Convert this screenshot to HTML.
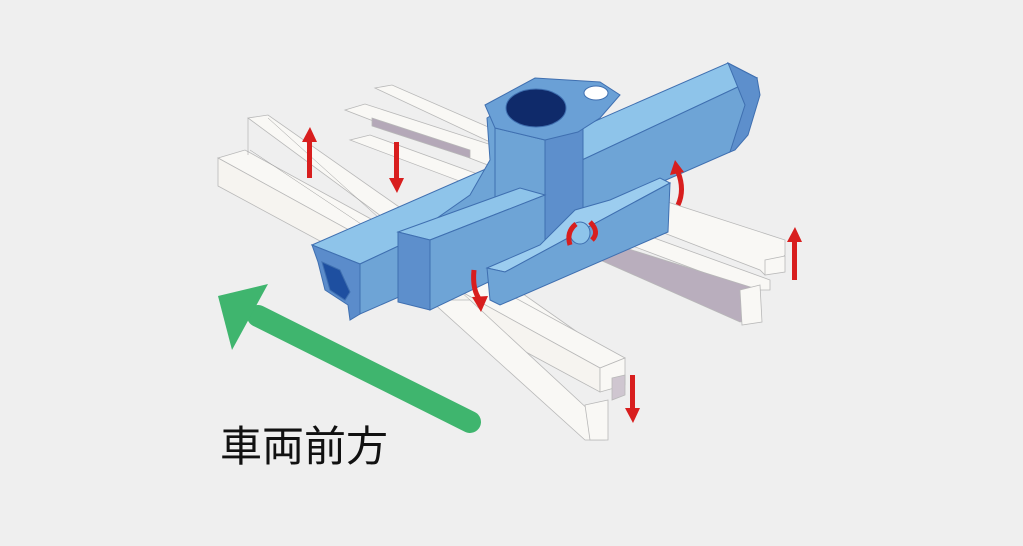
<!DOCTYPE html>
<html><head><meta charset="utf-8"><style>
html,body{margin:0;padding:0;background:#efefef;}
svg{display:block}
</style></head><body>
<svg width="1023" height="546" viewBox="0 0 1023 546" xmlns="http://www.w3.org/2000/svg">
<rect width="1023" height="546" fill="#efefef"/>
<g stroke="#b8b8b8" stroke-width="0.8" fill="#f9f8f5">
 <polygon points="375,88 392,85 770,250 770,262 752,265"/>
 <polygon points="345,110 365,104 785,240 785,255 765,275 760,270"/>
 <polygon points="372,118 470,150 470,158 372,126" fill="#b4a8b8"/>
 <polygon points="350,140 370,135 770,280 770,290 750,290"/>
 <polygon points="600,240 760,290 760,318 740,322 600,260" fill="#b9aebd"/>
 <polygon points="740,290 760,285 762,322 742,325"/>
 <polygon points="765,260 785,256 785,272 765,275"/>
 <polygon points="248,118 268,115 610,355 610,368 590,370"/>
 <polygon points="218,158 245,150 625,358 600,368"/>
 <polygon points="218,158 600,368 600,392 218,186" fill="#f6f4f0"/>
 <polygon points="600,368 625,358 625,385 600,392"/>
 <polygon points="430,300 470,300 605,425 605,440 585,440"/>
 <polygon points="585,405 608,400 608,440 590,440"/>
 <polygon points="612,378 625,375 625,395 612,400" fill="#cfc6d0"/>
</g>
<g stroke="#9a9a9a" stroke-width="0.5" fill="none">
 <line x1="248" y1="118" x2="248" y2="155"/>
 <line x1="268" y1="118" x2="470" y2="300"/>
 <line x1="250" y1="150" x2="460" y2="290"/>
</g>
<g stroke="#3f6fb0" stroke-width="1">
 <polygon points="312,245 728,63 757,78 360,264" fill="#8ec4ea"/>
 <polygon points="360,264 757,78 748,110 735,140 730,152 360,314" fill="#6ea4d6"/>
 <polygon points="728,63 757,78 760,95 748,135 735,150 730,152 745,105" fill="#5d8fcc"/>
 <polygon points="312,245 360,264 360,314 350,320 348,305 325,290 318,262" fill="#5b8ccb"/>
 <polygon points="322,262 340,270 350,292 345,300 330,290" fill="#1e4fa0"/>
 <polygon points="487,118 500,110 500,225 470,215 420,230 470,195 490,160" fill="#6ea4d6"/>
 <polygon points="495,128 545,140 545,240 495,240" fill="#6ea4d6"/>
 <polygon points="545,140 583,128 583,210 545,240" fill="#5d8fcc"/>
 <polygon points="485,105 535,78 600,82 620,95 600,118 578,132 545,140 495,128" fill="#6aa0d6"/>
 <ellipse cx="536" cy="108" rx="30" ry="19" fill="#0f2a6a"/>
 <ellipse cx="596" cy="93" rx="12" ry="7" fill="#ffffff"/>
 <polygon points="398,232 520,188 545,195 430,240" fill="#8ec4ea"/>
 <polygon points="398,232 430,240 430,310 398,302" fill="#5d8fcc"/>
 <polygon points="430,240 545,195 545,255 430,310" fill="#6ea4d6"/>
 <polygon points="487,268 540,245 575,210 610,200 660,178 670,183 505,272" fill="#9ccdef"/>
 <polygon points="487,268 505,272 670,183 668,232 500,305 490,300" fill="#6ea4d6"/>
 <ellipse cx="580" cy="233" rx="10" ry="11" fill="#8ec4ea"/>
</g>
<g fill="#d81e1e" stroke="none">
 <rect x="307" y="140" width="5" height="38"/><polygon points="302,142 310,127 317,142"/>
 <rect x="394" y="142" width="5" height="38"/><polygon points="389,178 397,193 404,178"/>
 <rect x="792" y="240" width="5" height="40"/><polygon points="787,242 795,227 802,242"/>
 <rect x="630" y="375" width="5" height="35"/><polygon points="625,408 633,423 640,408"/>
</g>
<g fill="none" stroke="#d81e1e" stroke-width="5">
 <path d="M474,270 Q472,290 480,300"/>
 <path d="M678,205 Q685,190 678,172"/>
 <path d="M570,245 Q566,232 576,224"/>
 <path d="M590,222 Q600,232 592,240"/>
</g>
<g fill="#d81e1e">
 <polygon points="472,297 488,296 481,312"/>
 <polygon points="670,175 684,172 675,160"/>
</g>
<line x1="470" y1="422" x2="258" y2="316" stroke="#3fb56e" stroke-width="22" stroke-linecap="round"/>
<polygon points="218,296 268,284 232,350" fill="#3fb56e"/>
<text x="220" y="461" font-family="'Liberation Sans','Noto Sans CJK JP',sans-serif" font-size="42" fill="#111">車両前方</text>
</svg>
</body></html>
